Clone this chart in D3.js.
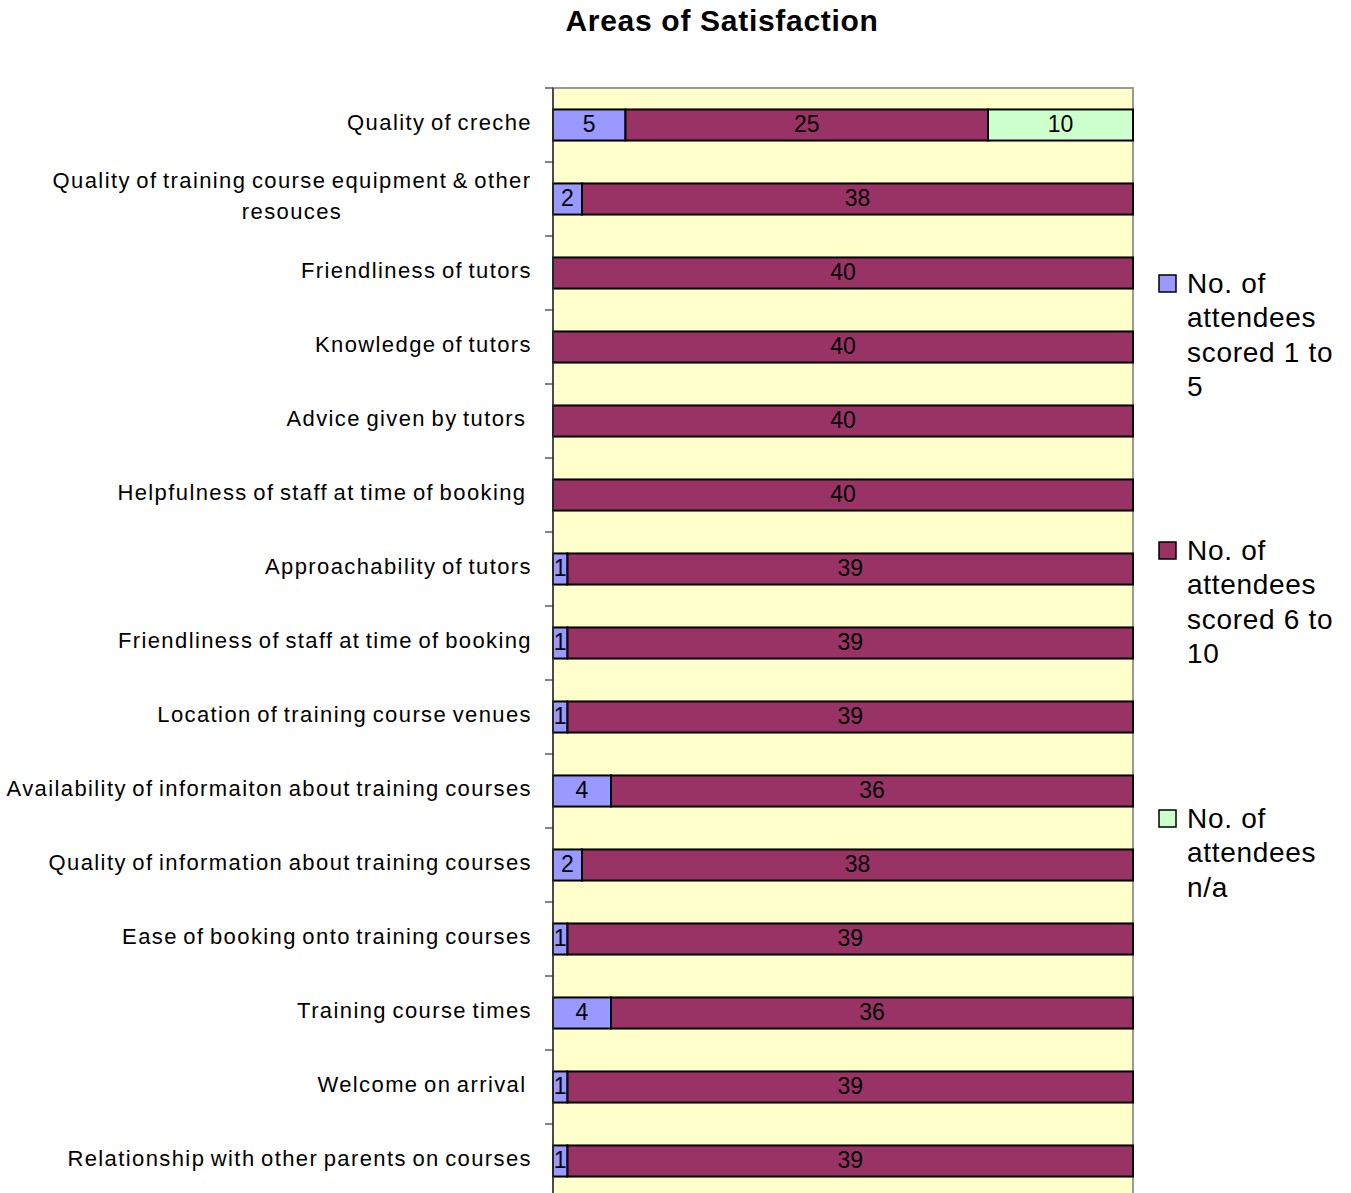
<!DOCTYPE html>
<html><head><meta charset="utf-8">
<script src="https://cdn.jsdelivr.net/npm/d3@7"></script>
<style>body{margin:0;background:#fff;} svg{display:block;}</style>
</head><body>
<script>
const categories = [
  "Quality of creche",
  "Quality of training course equipment & other|resouces",
  "Friendliness of tutors",
  "Knowledge of tutors",
  "Advice given by tutors ",
  "Helpfulness of staff at time of booking ",
  "Approachability of tutors",
  "Friendliness of staff at time of booking",
  "Location of training course venues",
  "Availability of informaiton about training courses",
  "Quality of information about training courses",
  "Ease of booking onto training courses",
  "Training course times",
  "Welcome on arrival ",
  "Relationship with other parents on courses"
];
const scored1to5  = [5, 2, 0, 0, 0, 0, 1, 1, 1, 4, 2, 1, 4, 1, 1];
const scored6to10 = [25, 38, 40, 40, 40, 40, 39, 39, 39, 36, 38, 39, 36, 39, 39];
const notApplicable = [10, 0, 0, 0, 0, 0, 0, 0, 0, 0, 0, 0, 0, 0, 0];
const seriesNames = ["No. of attendees scored 1 to 5", "No. of attendees scored 6 to 10", "No. of attendees n/a"];
const seriesColors = ["#9999FF", "#993366", "#CCFFCC"];
const xMax = 40;

const W = 1351, H = 1193;
const svg = d3.select("body").append("svg").attr("width", W).attr("height", H)
  .style("font-family", "'Liberation Sans', Arial, sans-serif");

const plot = {left: 553, right: 1133, top: 88, bottom: 1198};
const x = d3.scaleLinear().domain([0, xMax]).range([plot.left, plot.right]);
const y = d3.scaleBand().domain(categories).range([plot.top, plot.bottom]).paddingInner(0.58).paddingOuter(0.29);

svg.append("text").attr("x", 722).attr("y", 31).attr("text-anchor", "middle")
  .attr("font-size", 30).attr("letter-spacing", 0.7).attr("font-weight", "bold").text("Areas of Satisfaction");

svg.append("rect").attr("x", plot.left).attr("y", plot.top)
  .attr("width", plot.right - plot.left).attr("height", plot.bottom - plot.top)
  .attr("fill", "#FFFFCC").attr("stroke", "#999").attr("stroke-width", 2);

const series = [scored1to5, scored6to10, notApplicable];
const stackData = categories.map((c, i) => {
  let acc = 0;
  return series.map((s, k) => { const d = {cat: c, k, v: s[i], x0: acc, x1: acc + s[i]}; acc += s[i]; return d; });
}).flat().filter(d => d.v > 0);

svg.append("g").selectAll("rect").data(stackData).join("rect")
  .attr("x", d => x(d.x0)).attr("width", d => x(d.x1) - x(d.x0))
  .attr("y", d => y(d.cat)).attr("height", y.bandwidth())
  .attr("fill", d => seriesColors[d.k]).attr("stroke", "#000").attr("stroke-width", 2);

svg.append("g").selectAll("text").data(stackData).join("text")
  .attr("x", d => (x(d.x0) + x(d.x1)) / 2).attr("y", d => y(d.cat) + y.bandwidth() / 2 + 7)
  .attr("text-anchor", "middle").attr("font-size", 23).attr("fill", "#000").text(d => d.v);

// left axis
svg.append("line").attr("x1", plot.left).attr("x2", plot.left).attr("y1", plot.top).attr("y2", plot.bottom)
  .attr("stroke", "#333").attr("stroke-width", 1.5);
const bounds = d3.range(categories.length + 1).map(i => plot.top + i * (plot.bottom - plot.top) / categories.length);
svg.append("g").selectAll("line").data(bounds).join("line")
  .attr("x1", plot.left - 8).attr("x2", plot.left).attr("y1", d => d).attr("y2", d => d)
  .attr("stroke", "#333").attr("stroke-width", 1.2);

// category labels
const lab = svg.append("g").attr("font-size", 22).attr("letter-spacing", 1.4).attr("word-spacing", -2).attr("fill", "#000");
categories.forEach(c => {
  const cy = y(c) + y.bandwidth() / 2;
  const parts = c.split("|");
  if (parts.length === 1) {
    lab.append("text").attr("x", 532).attr("y", cy + 5).attr("text-anchor", "end")
      .style("white-space", "pre").text(c);
  } else {
    parts.forEach((p, j) => {
      lab.append("text").attr("x", 292).attr("y", cy - 11 + j * 31)
        .attr("text-anchor", "middle").text(p);
    });
  }
});

// legend
const legendLines = [["No. of", "attendees", "scored 1 to", "5"], ["No. of", "attendees", "scored 6 to", "10"], ["No. of", "attendees", "n/a"]];
const legendTop = [283, 550, 818];
legendLines.forEach((lines, k) => {
  const g = svg.append("g");
  g.append("rect").attr("x", 1159).attr("y", legendTop[k] - 8).attr("width", 17).attr("height", 17)
    .attr("fill", seriesColors[k]).attr("stroke", "#000").attr("stroke-width", 1.5);
  lines.forEach((t, j) => {
    g.append("text").attr("x", 1187).attr("y", legendTop[k] + 10 + j * 34.3)
      .attr("font-size", 28).attr("letter-spacing", 0.7).attr("fill", "#000").text(t);
  });
});
</script>
</body></html>
